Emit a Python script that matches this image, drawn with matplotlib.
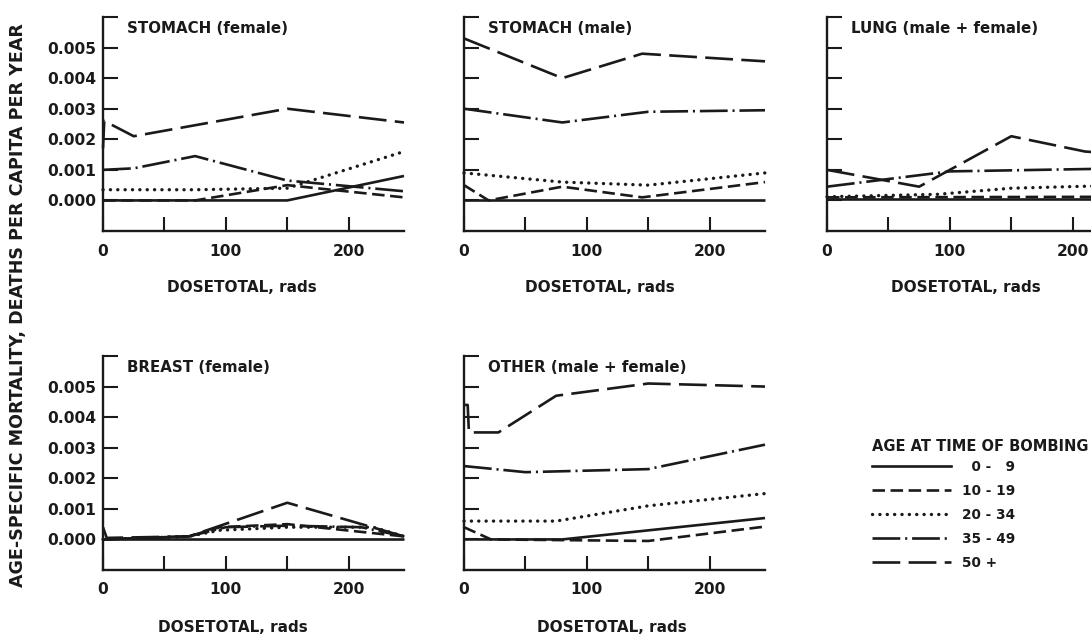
import matplotlib
matplotlib.use("Agg")
import matplotlib.pyplot as plt
from matplotlib.lines import Line2D

plt.rcParams['font.family'] = ['DejaVu Sans']
plt.rcParams['font.weight'] = 'bold'
plt.rcParams['lines.scale_dashes'] = False

# ---------------- data ----------------
age_groups = ['  0 -   9', '10 - 19', '20 - 34', '35 - 49', '50 +']
panel_titles = ['STOMACH (female)', 'STOMACH (male)', 'LUNG (male + female)',
                'BREAST (female)', 'OTHER (male + female)']
y_tick_values = [0.000, 0.001, 0.002, 0.003, 0.004, 0.005, 0.006]
y_tick_labels = ['0.000', '0.001', '0.002', '0.003', '0.004', '0.005', '']
x_tick_values = [0, 50, 100, 150, 200]
x_tick_labels = ['0', '', '100', '', '200']

# STOMACH (female): dose (rads), mortality
stomach_f_0_9 = ([0, 150, 245], [0.0, 0.0, 0.0008])
stomach_f_10_19 = ([0, 75, 150, 245], [0.0, 0.0, 0.0005, 0.0001])
stomach_f_20_34 = ([0, 75, 150, 245], [0.00035, 0.00035, 0.0004, 0.0016])
stomach_f_35_49 = ([0, 25, 75, 150, 245], [0.0010, 0.00105, 0.00145, 0.00065, 0.0003])
stomach_f_50 = ([0, 1, 25, 150, 245], [0.0017, 0.0026, 0.0021, 0.0030, 0.00255])

# STOMACH (male)
stomach_m_0_9 = ([0, 245], [0.0, 0.0])
stomach_m_10_19 = ([0, 20, 80, 145, 245], [0.0005, 0.0, 0.00045, 0.0001, 0.0006])
stomach_m_20_34 = ([0, 80, 150, 245], [0.0009, 0.0006, 0.0005, 0.0009])
stomach_m_35_49 = ([0, 80, 150, 245], [0.0030, 0.00255, 0.0029, 0.00295])
stomach_m_50 = ([0, 80, 145, 245], [0.0053, 0.0040, 0.0048, 0.00455])

# LUNG (male + female)
lung_0_9 = ([0, 245], [0.00005, 0.00005])
lung_10_19 = ([0, 245], [0.0001, 0.00012])
lung_20_34 = ([0, 90, 150, 245], [0.00012, 0.0002, 0.0004, 0.0005])
lung_35_49 = ([0, 100, 245], [0.00045, 0.00095, 0.00105])
lung_50 = ([0, 75, 150, 210, 245], [0.0010, 0.00045, 0.0021, 0.0016, 0.0015])

# BREAST (female)
breast_0_9 = ([0, 245], [0.0, 0.0])
breast_10_19 = ([0, 70, 95, 150, 245], [0.0, 0.0001, 0.0004, 0.0005, 0.0001])
breast_20_34 = ([0, 70, 95, 150, 220, 245], [0.0, 0.0001, 0.0003, 0.0004, 0.0004, 0.0001])
breast_35_49 = ([0, 70, 100, 150, 210, 245], [0.0, 0.0001, 0.0004, 0.00045, 0.0004, 0.0001])
breast_50 = ([0, 3, 70, 150, 245], [0.0004, 0.00005, 0.0001, 0.0012, 0.0001])

# OTHER (male + female)
other_0_9 = ([0, 80, 245], [0.0, 0.0, 0.0007])
other_10_19 = ([0, 22, 150, 245], [0.0004, 0.0, -0.00005, 0.00042])
other_20_34 = ([0, 75, 150, 245], [0.0006, 0.0006, 0.0011, 0.0015])
other_35_49 = ([0, 50, 150, 245], [0.0024, 0.0022, 0.0023, 0.0031])
other_50 = ([0, 3, 4, 28, 75, 150, 245], [0.0044, 0.0044, 0.0035, 0.0035, 0.0047, 0.0051, 0.0050])

panel_series = [
    [stomach_f_0_9, stomach_f_10_19, stomach_f_20_34, stomach_f_35_49, stomach_f_50],
    [stomach_m_0_9, stomach_m_10_19, stomach_m_20_34, stomach_m_35_49, stomach_m_50],
    [lung_0_9, lung_10_19, lung_20_34, lung_35_49, lung_50],
    [breast_0_9, breast_10_19, breast_20_34, breast_35_49, breast_50],
    [other_0_9, other_10_19, other_20_34, other_35_49, other_50],
]

# ---------------- styles ----------------
INK = '#1a1a1a'
line_styles = ['-', (0, (9, 4)), (0, (0.1, 5.2)), (0, (20, 3.5, 1.5, 3.5)), (0, (20, 6))]
cap_styles = ['butt', 'butt', 'round', 'butt', 'butt']
line_widths = [1.9, 1.9, 2.4, 1.9, 1.9]

W, H = 1091, 637
fig = plt.figure(figsize=(W / 100, H / 100), dpi=100)
fig.patch.set_facecolor('white')

ax_w = 301
lefts = [103, 464, 827, 103, 464]
tops = [17, 17, 17, 356, 356]
ax_h = 214
xlabel_pos = [0.46, 0.45, 0.46, 0.43, 0.49]

for i in range(5):
    l, t = lefts[i], tops[i]
    ax = fig.add_axes([l / W, 1 - (t + ax_h) / H, ax_w / W, ax_h / H])
    ax.set_xlim(0, 245)
    ax.set_ylim(-0.001, 0.006)
    for s in ['top', 'right']:
        ax.spines[s].set_visible(False)
    for s in ['left', 'bottom']:
        ax.spines[s].set_linewidth(1.7)
        ax.spines[s].set_color(INK)
    ax.set_yticks(y_tick_values)
    ax.set_xticks(x_tick_values)
    if i in (0, 3):
        ax.set_yticklabels(y_tick_labels)
    else:
        ax.set_yticklabels([''] * len(y_tick_values))
    ax.set_xticklabels(x_tick_labels)
    ax.tick_params(axis='y', direction='in', length=11, width=1.5, color=INK,
                   labelsize=11.2, pad=4.5, labelcolor=INK)
    ax.tick_params(axis='x', direction='in', length=10, width=1.5, color=INK,
                   labelsize=11.2, pad=9, labelcolor=INK)
    for lab in ax.get_xticklabels() + ax.get_yticklabels():
        lab.set_fontweight('bold')

    for k, (xs, ys) in enumerate(panel_series[i]):
        ax.plot(xs, ys, color=INK, lw=line_widths[k], linestyle=line_styles[k],
                dash_capstyle=cap_styles[k], solid_capstyle='butt', clip_on=False)

    ax.text(0.08, 0.945, panel_titles[i], transform=ax.transAxes, ha='left',
            va='center', fontsize=10.8, fontweight='bold', color=INK)
    ax.set_xlabel('DOSETOTAL, rads', fontsize=11, fontweight='bold', color=INK)
    ax.xaxis.label.set_va('center')
    ax.xaxis.set_label_coords(xlabel_pos[i], -57 / ax_h)

fig.text(18 / W, 1 - 305 / H, 'AGE-SPECIFIC MORTALITY, DEATHS PER CAPITA PER YEAR',
         rotation=90, ha='center', va='center', fontsize=12.6, fontweight='bold',
         color=INK)

handles = [Line2D([0], [0], color=INK, lw=line_widths[k], linestyle=line_styles[k],
                  dash_capstyle=cap_styles[k]) for k in range(5)]
leg = fig.legend(handles, age_groups, loc='upper left',
                 bbox_to_anchor=(872 / W, 1 - 439 / H), frameon=False,
                 title='AGE AT TIME OF BOMBING', title_fontsize=10.5,
                 prop={'size': 9.8, 'weight': 'bold'}, handlelength=5.8,
                 handletextpad=0.8, labelspacing=0.74, borderpad=0,
                 borderaxespad=0, alignment='left')
leg._legend_box.sep = 4
leg.get_title().set_fontweight('bold')
leg.get_title().set_color(INK)
for txt in leg.get_texts():
    txt.set_color(INK)

fig.savefig('out.png', dpi=100, facecolor='white')
